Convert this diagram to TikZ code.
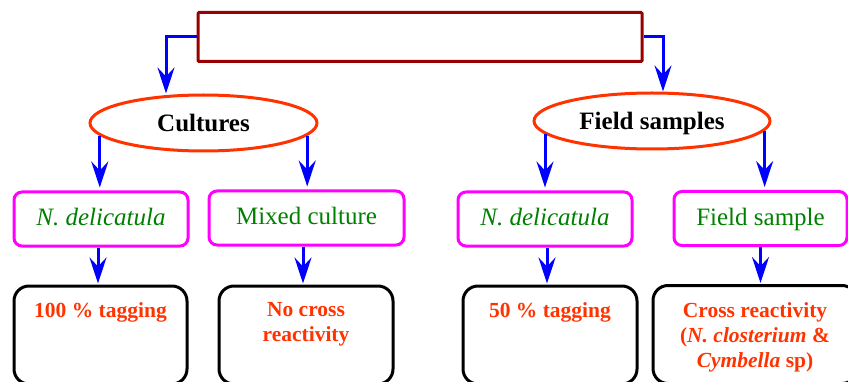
\documentclass[tikz,border=0pt]{standalone}
\usepackage{fontspec}
\setmainfont{Liberation Serif}
\usetikzlibrary{arrows.meta,shapes.geometric,calc}
\definecolor{rectred}{RGB}{153,0,0}
\definecolor{ovalred}{RGB}{255,51,0}
\definecolor{txtred}{RGB}{255,51,0}
\definecolor{boxmag}{RGB}{255,0,255}
\definecolor{txtgreen}{RGB}{0,128,0}
\definecolor{arrblue}{RGB}{0,0,255}
\tikzset{
  topbox/.style={draw=rectred, line width=3pt, rectangle, rounded corners=1pt,
    minimum width=444pt, minimum height=49pt, inner sep=0pt},
  oval/.style={draw=ovalred, line width=3pt, ellipse, inner sep=0pt,
    font=\fontsize{25pt}{30pt}\selectfont\bfseries, text height=17pt, text depth=0pt},
  magbox/.style={draw=boxmag, line width=3pt, rectangle, rounded corners=8pt,
    minimum height=54pt, inner sep=0pt, text=txtgreen,
    font=\fontsize{25pt}{30pt}\selectfont, text height=18pt, text depth=5pt},
  resbox/.style={draw=black, line width=3pt, rectangle, rounded corners=15pt,
    minimum height=98pt, inner sep=0pt},
  restext/.style={anchor=north, inner sep=0pt, align=center, text=txtred,
    font=\fontsize{21.5pt}{25pt}\selectfont\bfseries},
  arr/.style={draw=arrblue, line width=3pt,
    -{Stealth[length=26pt, width=17pt, inset=9pt]}},
}
\begin{document}
\begin{tikzpicture}[x=1pt,y=-1pt]
\useasboundingbox (0,0) rectangle (848,382);
\clip (0,0) rectangle (848,382);
% top box
\node[topbox] (top) at (420,37) {};
% ellipses
\node[oval, minimum width=227pt, minimum height=56pt] (cult) at (203.5,123) {Cultures};
\node[oval, minimum width=236pt, minimum height=56pt] (field) at (652,121) {Field samples};
% magenta boxes
\node[magbox, minimum width=174pt] (m1) at (101,219) {\itshape N. delicatula};
\node[magbox, minimum width=195pt] (m2) at (306.5,218) {Mixed culture};
\node[magbox, minimum width=174pt] (m3) at (545,219) {\itshape N. delicatula};
\node[magbox, minimum width=173pt] (m4) at (760.5,218.5) {Field sample};
% result boxes
\node[resbox, minimum width=173pt] (b1) at (100.5,335) {};
\node[resbox, minimum width=174pt] (b2) at (306,335) {};
\node[resbox, minimum width=174pt] (b3) at (550,335) {};
\node[resbox, minimum width=204pt] (b4) at (755,334.5) {};
% result texts
\node[restext] (t1) at (100.5,302.5) {100 \% tagging};
\node[restext] (t2) at (306,302.5) {No cross\\reactivity};
\node[restext] (t3) at (550,302.5) {50 \% tagging};
\node[restext] (t4) at (755,302.5) {Cross reactivity\\(\textit{N. closterium} \&\\\textit{Cymbella} sp)};
% connectors from top box
\draw[arr] (top.west) -| ([xshift=-37.5pt]cult.north);
\draw[arr] (top.east) -| ([xshift=11pt]field.north);
% ellipse to magenta
\draw[arr] (cult.-173) -- (cult.-173 |- m1.north) [shorten >=3pt];
\draw[arr] (cult.-7) -- (cult.-7 |- m2.north) [shorten >=3pt];
\draw[arr] (field.-173.6) -- (field.-173.6 |- m3.north) [shorten >=3pt];
\draw[arr] (field.-5.8) -- (field.-5.8 |- m4.north) [shorten >=3pt];
% magenta to result
\draw[arr, shorten >=1pt] ([xshift=-3pt]m1.south) -- ([xshift=-3pt]m1.south |- b1.north);
\draw[arr, shorten >=1pt] ([xshift=-3.5pt]m2.south) -- ([xshift=-3.5pt]m2.south |- b2.north);
\draw[arr, shorten >=1pt] ([xshift=2pt]m3.south) -- ([xshift=2pt]m3.south |- b3.north);
\draw[arr, shorten >=1pt] (m4.south) -- (m4.south |- b4.north);
\end{tikzpicture}
\end{document}
